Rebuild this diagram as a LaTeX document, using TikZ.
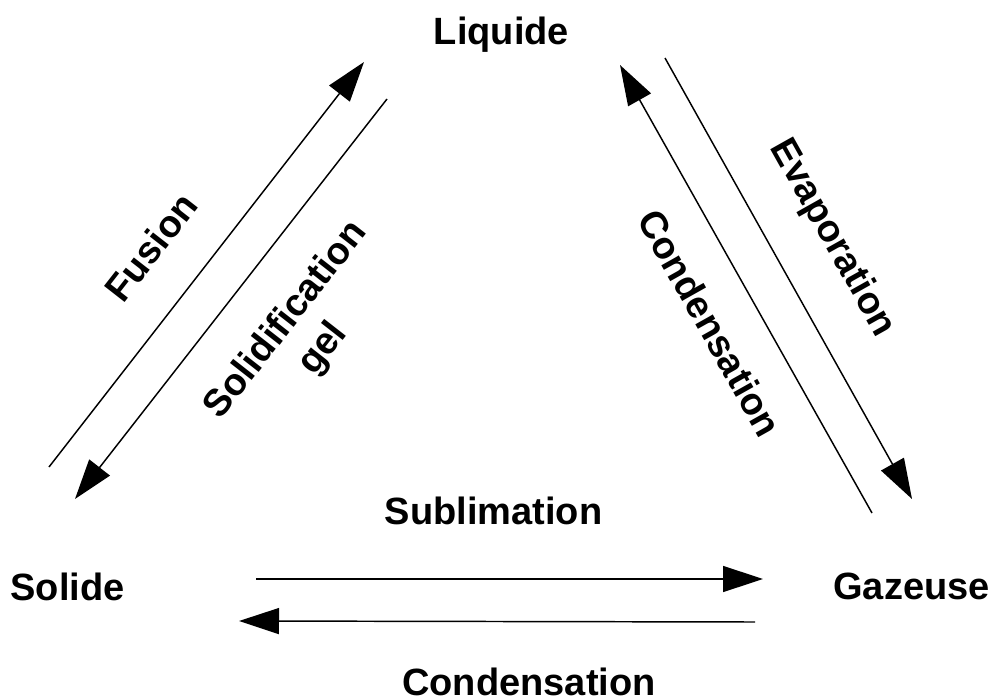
\documentclass[tikz,border=0pt]{standalone}
\usepackage{fontspec}
\setmainfont{Liberation Sans}
\usetikzlibrary{arrows.meta}
\tikzset{
  state/.style={font=\bfseries\fontsize{28.5}{34}\selectfont, inner sep=0pt, anchor=base},
  lbl/.style={font=\bfseries\fontsize{28.5}{35}\selectfont, inner sep=0pt, align=center},
  flow/.style={-{Triangle[length=30pt, width=19.5pt]}, line width=1.1pt}
}

\begin{document}
\begin{tikzpicture}[x=0.75pt, y=-0.75pt]
  \useasboundingbox (0,0) rectangle (993,699);
  % the three states
  \node[state] (liq) at (501.5,45) {Liquide};
  \node[state] (sol) at (67.5,600) {Solide};
  \node[state] (gaz) at (911.5,599) {Gazeuse};
  % ends of the arrows
  \coordinate (fusA) at (49,467);
  \coordinate (fusB) at (364,62);
  \coordinate (solA) at (387,99);
  \coordinate (solB) at (75,499);
  \coordinate (conA) at (872,513);
  \coordinate (conB) at (620,65);
  \coordinate (evaA) at (665,58);
  \coordinate (evaB) at (912,499);
  \coordinate (subA) at (256,579);
  \coordinate (subB) at (763,579);
  \coordinate (cobA) at (755,622);
  \coordinate (cobB) at (239,621);
  \draw[flow] (fusA) -- (fusB);
  \draw[flow] (solA) -- (solB);
  \draw[flow] (conA) -- (conB);
  \draw[flow] (evaA) -- (evaB);
  \draw[flow] (subA) -- (subB);
  \draw[flow] (cobA) -- (cobB);
  % transitions
  \node[lbl, rotate=52] (fus) at (151,247) {Fusion};
  \node[lbl, rotate=52] (sgel) at (305,335) {Solidification\\gel};
  \node[lbl, rotate=-60.7] (cond) at (710,323) {Condensation};
  \node[lbl, rotate=-60.7] (evap) at (832,238) {Evaporation};
  \node[state] (subl) at (493.5,524) {Sublimation};
  \node[state] (conb) at (529,695) {Condensation};
\end{tikzpicture}
\end{document}
